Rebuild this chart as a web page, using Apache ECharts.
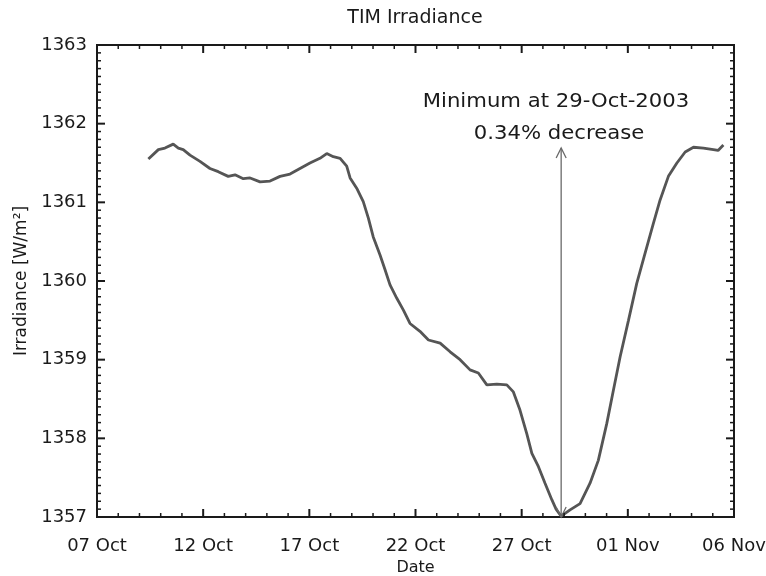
<!DOCTYPE html>
<html>
<head>
<meta charset="utf-8">
<script src="https://cdn.jsdelivr.net/npm/echarts@6/dist/echarts.min.js"></script>
<style>
html,body{margin:0;padding:0;background:#fff;}
#chart{width:766px;height:576px;}
</style>
</head>
<body>
<div id="chart"></div>
<script>
// Days after 07 Oct 2003 (00:00)
var dayOffsets = [2.42,2.89,3.20,3.59,3.83,4.06,4.38,4.85,5.32,5.71,6.18,6.50,6.89,7.21,7.68,8.15,8.62,9.09,9.56,10.03,10.50,10.82,11.13,11.45,11.76,11.92,12.23,12.54,12.78,13.01,13.33,13.57,13.80,14.12,14.43,14.74,15.21,15.61,16.16,16.63,17.10,17.57,17.96,18.36,18.83,19.30,19.61,19.92,20.24,20.48,20.79,21.10,21.42,21.62,21.86,22.28,22.75,23.22,23.61,24.01,24.32,24.64,25.03,25.42,25.81,26.20,26.52,26.91,27.31,27.70,28.09,28.56,29.03,29.25,29.50];
// TIM irradiance, W/m^2
var irradiance = [1361.55,1361.67,1361.69,1361.74,1361.69,1361.67,1361.60,1361.52,1361.43,1361.39,1361.33,1361.35,1361.30,1361.31,1361.26,1361.27,1361.33,1361.36,1361.43,1361.50,1361.56,1361.62,1361.58,1361.56,1361.46,1361.31,1361.18,1361.01,1360.80,1360.56,1360.33,1360.14,1359.95,1359.78,1359.63,1359.46,1359.36,1359.25,1359.21,1359.10,1359.00,1358.87,1358.83,1358.68,1358.69,1358.68,1358.59,1358.36,1358.06,1357.81,1357.64,1357.43,1357.22,1357.10,1357.01,1357.09,1357.17,1357.43,1357.72,1358.19,1358.61,1359.04,1359.50,1359.97,1360.35,1360.73,1361.03,1361.33,1361.50,1361.64,1361.70,1361.69,1361.67,1361.66,1361.73];
var xTickLabels = ['07 Oct','12 Oct','17 Oct','22 Oct','27 Oct','01 Nov','06 Nov'];
var yTickValues = [1357,1358,1359,1360,1361,1362,1363];
// Annotation arrow: [day offset, bottom value, top value]
var arrowSpec = [21.86, 1357.0, 1361.69];
var annotationLines = ['Minimum at 29-Oct-2003', '0.34% decrease'];

var FONT = 'DejaVu Sans';
var INK = '#1a1a1a';

var X_MAX = (xTickLabels.length - 1) * 5;   // 30 days
var Y_MIN = yTickValues[0], Y_MAX = yTickValues[yTickValues.length-1];
var X_MINOR = 5, Y_MINOR = 10;

var chart = echarts.init(document.getElementById('chart'), null, {renderer:'canvas'});

var lineData = dayOffsets.map(function(d,i){return [d, irradiance[i]];});

// Tick descriptors: [axis(0=x,1=y), value, isMajor]
var tickDefs = [];
(function(){
  var i;
  for (i = 0; i <= (xTickLabels.length-1)*X_MINOR; i++) {
    tickDefs.push([0, i*5/X_MINOR, i % X_MINOR === 0 ? 1 : 0]);
  }
  for (i = 0; i <= (yTickValues.length-1)*Y_MINOR; i++) {
    tickDefs.push([1, Y_MIN + i/Y_MINOR, i % Y_MINOR === 0 ? 1 : 0]);
  }
})();

var option = {
  backgroundColor:'#ffffff',
  animation:false,
  title:{text:'TIM Irradiance', left:410, top:4, textAlign:'center',
    textStyle:{color:INK, fontFamily:FONT, fontSize:19, fontWeight:'normal'}},
  grid:{left:97, right:32, top:45, bottom:59, containLabel:false, outerBoundsMode:'none',
    show:true, borderColor:INK, borderWidth:2, backgroundColor:'transparent'},
  xAxis:{type:'value', min:0, max:X_MAX, interval:5,
    axisLine:{show:true, lineStyle:{color:INK, width:2}},
    axisTick:{show:false}, minorTick:{show:false}, splitLine:{show:false},
    axisLabel:{show:true, color:INK, fontFamily:FONT, fontSize:18, margin:20,
      formatter:function(v){return xTickLabels[Math.round(v/5)];}},
    name:'Date', nameLocation:'middle', nameGap:43,
    nameTextStyle:{color:INK, fontFamily:FONT, fontSize:16}},
  yAxis:{type:'value', min:Y_MIN, max:Y_MAX, interval:1,
    axisLine:{show:true, lineStyle:{color:INK, width:2}},
    axisTick:{show:false}, minorTick:{show:false}, splitLine:{show:false},
    axisLabel:{show:true, color:INK, fontFamily:FONT, fontSize:18, margin:10,
      formatter:function(v){return String(v);}},
    name:'Irradiance [W/m²]', nameLocation:'middle', nameGap:66, nameRotate:90,
    nameTextStyle:{color:INK, fontFamily:FONT, fontSize:17}},
  series:[
    {type:'line', data:lineData, showSymbol:false, symbol:'none',
      lineStyle:{color:'#555555', width:2.8}, z:3},
    {type:'custom', data:tickDefs, encode:{x:1}, clip:false, silent:true, z:5,
      renderItem:function(params, api){
        var axis = api.value(0), v = api.value(1), major = api.value(2);
        var len = major ? 8 : 4;
        var st = {stroke:INK, lineWidth: major ? 2 : 1.5};
        var a, b;
        if (axis === 0) {
          a = api.coord([v, Y_MIN]); b = api.coord([v, Y_MAX]);
          return {type:'group', children:[
            {type:'line', shape:{x1:a[0], y1:a[1], x2:a[0], y2:a[1]-len}, style:st},
            {type:'line', shape:{x1:b[0], y1:b[1], x2:b[0], y2:b[1]+len}, style:st}
          ]};
        } else {
          a = api.coord([0, v]); b = api.coord([X_MAX, v]);
          return {type:'group', children:[
            {type:'line', shape:{x1:a[0], y1:a[1], x2:a[0]+len, y2:a[1]}, style:st},
            {type:'line', shape:{x1:b[0], y1:b[1], x2:b[0]-len, y2:b[1]}, style:st}
          ]};
        }
      }},
    {type:'custom', data:[arrowSpec], encode:{x:0, y:[1,2]}, z:4, clip:false,
      renderItem:function(params, api){
        var b = api.coord([api.value(0), api.value(1)]);
        var t = api.coord([api.value(0), api.value(2)]);
        var st = {stroke:'#6a6a6a', lineWidth:1.3, fill:null};
        return {type:'group', children:[
          {type:'line', shape:{x1:b[0], y1:b[1], x2:t[0], y2:t[1]}, style:st},
          {type:'polyline', shape:{points:[[t[0]-5,t[1]+10],[t[0],t[1]],[t[0]+5,t[1]+10]]}, style:st},
          {type:'polyline', shape:{points:[[b[0]-5,b[1]-10],[b[0],b[1]],[b[0]+5,b[1]-10]]}, style:st}
        ]};
      }}
  ],
  graphic:[
    {type:'text', x:556, y:102, scaleX:1.06, style:{text:annotationLines[0], textAlign:'center', textVerticalAlign:'middle',
      fill:INK, font:'20px "DejaVu Sans"'}},
    {type:'text', x:559, y:134, scaleX:1.06, style:{text:annotationLines[1], textAlign:'center', textVerticalAlign:'middle',
      fill:INK, font:'20px "DejaVu Sans"'}}
  ]
};
chart.setOption(option);
</script>
</body>
</html>
